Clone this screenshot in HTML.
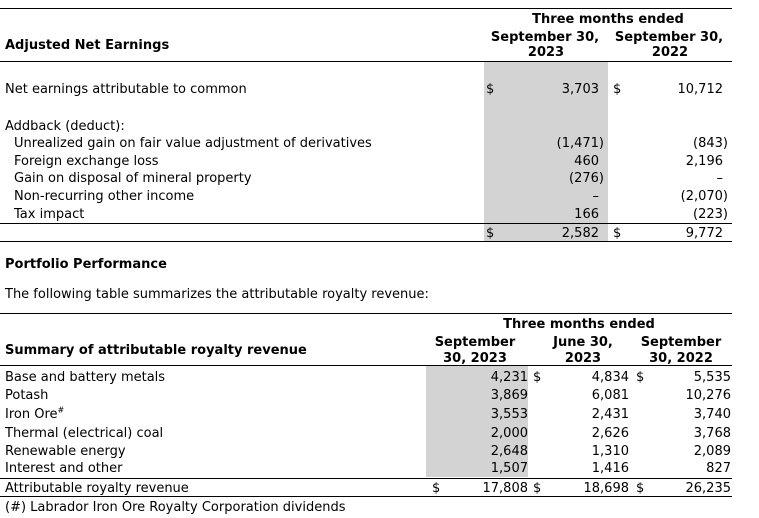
<!DOCTYPE html>
<html><head><meta charset="utf-8"><style>
body{margin:0;width:759px;height:518px;background:#fff;position:relative;overflow:hidden;font-family:"DejaVu Sans","Liberation Sans",sans-serif;font-size:13px;color:#000}
div{position:absolute;line-height:16px;white-space:nowrap}
body>div:not(.ln):not(.g){margin-top:2px}
.b{font-weight:bold}
.r{text-align:right}
.c{text-align:center}
.ln{height:1px;background:#000}
.g{background:#d3d3d3}
</style></head><body>
<!-- Top table -->
<div class="ln" style="left:0;top:8px;width:732px"></div>
<div class="g" style="left:484px;top:62px;width:124px;height:179px"></div>
<div class="b c" style="left:484px;top:10px;width:248px">Three months ended</div>
<div class="b c" style="left:480px;top:28px;width:130px">September 30,</div>
<div class="b c" style="left:604px;top:28px;width:130px">September 30,</div>
<div class="b c" style="left:484px;top:43px;width:124px">2023</div>
<div class="b c" style="left:608px;top:43px;width:124px">2022</div>
<div class="b" style="left:5px;top:36px">Adjusted Net Earnings</div>
<div class="ln" style="left:0;top:61px;width:732px"></div>

<div style="left:5px;top:80px">Net earnings attributable to common</div>
<div style="left:486px;top:80px">$</div><div class="r" style="right:160px;top:80px">3,703</div>
<div style="left:613px;top:80px">$</div><div class="r" style="right:36px;top:80px">10,712</div>

<div style="left:5px;top:117px">Addback (deduct):</div>
<div style="left:14px;top:134px">Unrealized gain on fair value adjustment of derivatives</div>
<div style="left:14px;top:152px">Foreign exchange loss</div>
<div style="left:14px;top:169px">Gain on disposal of mineral property</div>
<div style="left:14px;top:187px">Non-recurring other income</div>
<div style="left:14px;top:205px">Tax impact</div>
<div class="r" style="right:155px;top:134px">(1,471)</div>
<div class="r" style="right:160px;top:152px">460</div>
<div class="r" style="right:155px;top:169px">(276)</div>
<div class="r" style="right:160px;top:187px">–</div>
<div class="r" style="right:160px;top:205px">166</div>
<div class="r" style="right:31px;top:134px">(843)</div>
<div class="r" style="right:36px;top:152px">2,196</div>
<div class="r" style="right:36px;top:169px">–</div>
<div class="r" style="right:31px;top:187px">(2,070)</div>
<div class="r" style="right:31px;top:205px">(223)</div>
<div class="ln" style="left:0;top:223px;width:732px"></div>
<div style="left:486px;top:224px">$</div><div class="r" style="right:160px;top:224px">2,582</div>
<div style="left:613px;top:224px">$</div><div class="r" style="right:36px;top:224px">9,772</div>
<div class="ln" style="left:0;top:241px;width:732px"></div>

<div class="b" style="left:5px;top:255px">Portfolio Performance</div>
<div style="left:5px;top:285px">The following table summarizes the attributable royalty revenue:</div>

<!-- Bottom table -->
<div class="ln" style="left:0;top:313px;width:732px"></div>
<div class="g" style="left:426px;top:366px;width:102px;height:111px"></div>
<div class="b c" style="left:426px;top:315px;width:306px">Three months ended</div>
<div class="b c" style="left:420px;top:333px;width:110px">September</div>
<div class="b c" style="left:420px;top:349px;width:110px">30, 2023</div>
<div class="b c" style="left:530px;top:333px;width:106px">June 30,</div>
<div class="b c" style="left:530px;top:349px;width:106px">2023</div>
<div class="b c" style="left:626px;top:333px;width:110px">September</div>
<div class="b c" style="left:626px;top:349px;width:110px">30, 2022</div>
<div class="b" style="left:5px;top:341px">Summary of attributable royalty revenue</div>
<div class="ln" style="left:0;top:365px;width:732px"></div>

<div style="left:5px;top:368px">Base and battery metals</div>
<div style="left:5px;top:386px">Potash</div>
<div style="left:5px;top:405px">Iron Ore<sup style="font-size:8px;line-height:0">#</sup></div>
<div style="left:5px;top:424px">Thermal (electrical) coal</div>
<div style="left:5px;top:442px">Renewable energy</div>
<div style="left:5px;top:459px">Interest and other</div>

<div class="r" style="right:231px;top:368px">4,231</div><div style="left:533px;top:368px">$</div>
<div class="r" style="right:130px;top:368px">4,834</div><div style="left:636px;top:368px">$</div>
<div class="r" style="right:28px;top:368px">5,535</div>
<div class="r" style="right:231px;top:386px">3,869</div><div class="r" style="right:130px;top:386px">6,081</div><div class="r" style="right:28px;top:386px">10,276</div>
<div class="r" style="right:231px;top:405px">3,553</div><div class="r" style="right:130px;top:405px">2,431</div><div class="r" style="right:28px;top:405px">3,740</div>
<div class="r" style="right:231px;top:424px">2,000</div><div class="r" style="right:130px;top:424px">2,626</div><div class="r" style="right:28px;top:424px">3,768</div>
<div class="r" style="right:231px;top:442px">2,648</div><div class="r" style="right:130px;top:442px">1,310</div><div class="r" style="right:28px;top:442px">2,089</div>
<div class="r" style="right:231px;top:459px">1,507</div><div class="r" style="right:130px;top:459px">1,416</div><div class="r" style="right:28px;top:459px">827</div>

<div class="ln" style="left:0;top:478px;width:732px"></div>
<div style="left:5px;top:479px">Attributable royalty revenue</div>
<div style="left:432px;top:479px">$</div>
<div class="r" style="right:231px;top:479px">17,808</div><div style="left:533px;top:479px">$</div>
<div class="r" style="right:130px;top:479px">18,698</div><div style="left:636px;top:479px">$</div>
<div class="r" style="right:28px;top:479px">26,235</div>
<div class="ln" style="left:0;top:496px;width:732px"></div>
<div style="left:5px;top:498px">(#) Labrador Iron Ore Royalty Corporation dividends</div>
</body></html>
